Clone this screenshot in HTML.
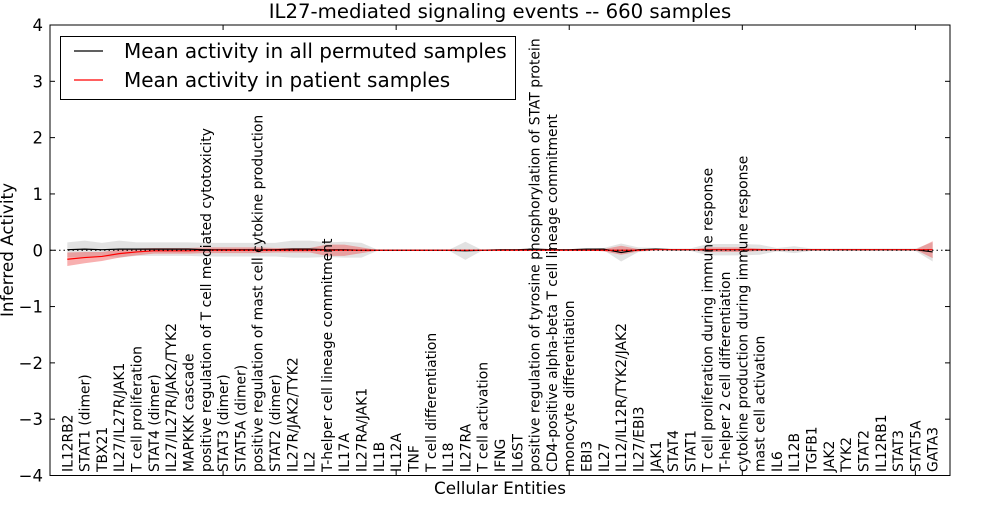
<!DOCTYPE html>
<html><head><meta charset="utf-8"><style>
body{margin:0;background:#fff;}
svg{font-family:"DejaVu Sans","Liberation Sans",sans-serif;}
</style></head><body>
<svg id="c" width="1000" height="500" xmlns="http://www.w3.org/2000/svg"></svg>
<script>
const categories=["IL12RB2","STAT1 (dimer)","TBX21","IL27/IL27R/JAK1","T cell proliferation","STAT4 (dimer)","IL27/IL27R/JAK2/TYK2","MAPKKK cascade","positive regulation of T cell mediated cytotoxicity","STAT3 (dimer)","STAT5A (dimer)","positive regulation of mast cell cytokine production","STAT2 (dimer)","IL27R/JAK2/TYK2","IL2","T-helper cell lineage commitment","IL17A","IL27RA/JAK1","IL1B","IL12A","TNF","T cell differentiation","IL18","IL27RA","T cell activation","IFNG","IL6ST","positive regulation of tyrosine phosphorylation of STAT protein","CD4-positive alpha-beta T cell lineage commitment","monocyte differentiation","EBI3","IL27","IL12/IL12R/TYK2/JAK2","IL27/EBI3","JAK1","STAT4","STAT1","T cell proliferation during immune response","T-helper 2 cell differentiation","cytokine production during immune response","mast cell activation","IL6","IL12B","TGFB1","JAK2","TYK2","STAT2","IL12RB1","STAT3","STAT5A","GATA3"];
const permMean=[0.01,0.02,0.01,0.02,0.02,0.02,0.02,0.02,0.01,0.01,0.01,0.01,0.01,0.02,0.02,0.01,0.01,0.0,0,0,0,0,0,-0.01,0,0.01,0.01,0.02,0.01,0.01,0.02,0.02,-0.04,0.01,0.02,0.01,0.01,0.01,0.01,0.01,0.01,0.01,0.01,0.01,0.01,0.01,0.01,0.01,0.01,0.01,-0.03];
const permSpread=[0.13,0.15,0.12,0.15,0.12,0.12,0.12,0.12,0.12,0.12,0.12,0.12,0.12,0.15,0.15,0.13,0.14,0.13,0,0,0,0,0,0.16,0,0,0,0.02,0,0,0,0.02,0.16,0.04,0.02,0.02,0.02,0.1,0.1,0.1,0.09,0.03,0.06,0.02,0.02,0.02,0.02,0.02,0.02,0.02,0.17];
const patMean=[-0.16,-0.13,-0.11,-0.06,-0.03,-0.01,-0.01,-0.01,0,0,0,0,0,0,0,0,0,0,0,0,0,0,0,0,0,0,0,0,0,0,0,0,0,0,0.01,0.01,0.01,0.01,0.01,0.01,0.01,0.01,0.01,0.01,0.01,0.01,0.01,0.01,0.01,0.01,0.01];
const patSpread=[0.12,0.1,0.08,0.07,0.06,0.05,0.05,0.05,0.05,0.05,0.05,0.05,0.04,0.04,0.04,0.1,0.1,0.05,0,0,0,0,0,0,0,0,0,0,0,0,0,0.02,0.08,0.02,0,0,0,0.04,0.04,0.04,0.02,0,0,0,0,0,0,0,0,0,0.15];
const yTicks=[-4,-3,-2,-1,0,1,2,3,4];

const svg=document.getElementById('c');
const NS='http://www.w3.org/2000/svg';
const L=50,R=950,T=25,B=475.5;
const xs=i=>L+(i+1)*(R-L)/52;
const ys=v=>T+(4-v)*(B-T)/8;
function mk(tag,attrs,parent){const e=document.createElementNS(NS,tag);for(const k in attrs)e.setAttribute(k,attrs[k]);(parent||svg).appendChild(e);return e;}
function band(mean,spr,fill,name){
  let up=mean.map((m,i)=>xs(i)+','+ys(m+spr[i]));
  let dn=mean.map((m,i)=>xs(i)+','+ys(m-spr[i])).reverse();
  const p=mk('polygon',{points:up.concat(dn).join(' '),fill:fill,stroke:'none'});
  
  
}
function line(mean,col,name){
  const p=mk('polyline',{points:mean.map((m,i)=>xs(i)+','+ys(m)).join(' '),fill:'none',stroke:col,'stroke-width':1.2});
  
  
}
band(permMean,permSpread,'rgba(190,190,190,0.45)','permuted-band');
band(patMean,patSpread,'rgba(240,80,80,0.45)','patient-band');
line(permMean,'#000','permuted-mean-line');
line(patMean,'#f00','patient-mean-line');
const z=mk('line',{x1:L,x2:R,y1:ys(0),y2:ys(0),stroke:'#000','stroke-dasharray':'1.5,3','stroke-width':1});


const fr=mk('rect',{x:L,y:T,width:R-L,height:B-T,fill:'none',stroke:'#000','stroke-width':1});


yTicks.forEach(v=>{
  const y=ys(v);
  mk('line',{x1:L,x2:L+5,y1:y,y2:y,stroke:'#000'});
  mk('line',{x1:R-5,x2:R,y1:y,y2:y,stroke:'#000'});
  const t=mk('text',{x:L-7,y:y+6,'text-anchor':'end','font-size':16.5});
  t.textContent=v===0?'0':(v<0?'\u2212'+(-v):String(v));
  
  
});
[10,20,30,40,50].forEach(d=>{
  const x=L+d*(R-L)/52;
  mk('line',{x1:x,x2:x,y1:T,y2:T+5,stroke:'#000'});
  mk('line',{x1:x,x2:x,y1:B-5,y2:B,stroke:'#000'});
});
categories.forEach((c,i)=>{
  const x=xs(i)+5, y=472;
  const t=mk('text',{x:x,y:y,transform:`rotate(-90 ${x} ${y})`,'font-size':13.9});
  t.textContent=c;
  
  
});
const title=mk('text',{x:500,y:18,'text-anchor':'middle','font-size':19.7});
title.textContent='IL27-mediated signaling events -- 660 samples';


const xl=mk('text',{x:500,y:494,'text-anchor':'middle','font-size':16.8});
xl.textContent='Cellular Entities';


const yl=mk('text',{x:13,y:250,'text-anchor':'middle','font-size':16.8,transform:'rotate(-90 13 250)'});
yl.textContent='Inferred Activity';


const lg=mk('g',{});


mk('rect',{x:60.5,y:36.5,width:455,height:63,fill:'#fff',stroke:'#000'},lg);
mk('line',{x1:74,x2:103,y1:51,y2:51,stroke:'#000','stroke-width':1.2},lg);
mk('line',{x1:74,x2:103,y1:80,y2:80,stroke:'#f00','stroke-width':1.2},lg);
const l1=mk('text',{x:124,y:58,'font-size':20},lg);l1.textContent='Mean activity in all permuted samples';


const l2=mk('text',{x:124,y:87,'font-size':20},lg);l2.textContent='Mean activity in patient samples';


</script>
</body></html>
